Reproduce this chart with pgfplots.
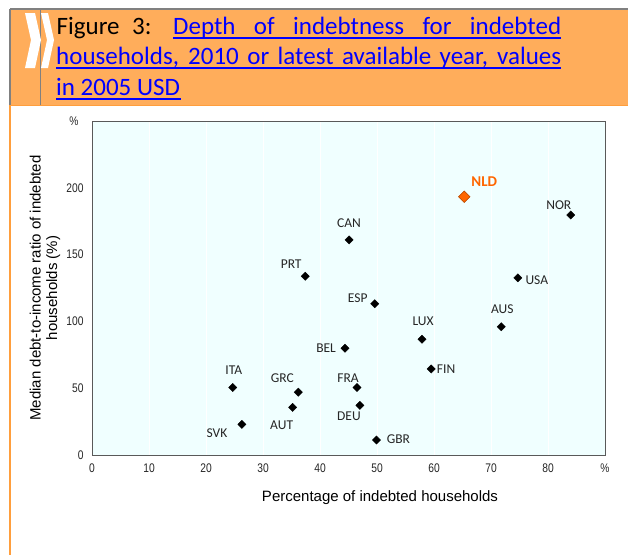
\documentclass[border=0pt]{standalone}
\usepackage{pgfplots}
\pgfplotsset{compat=1.18}
\usepackage{pgfplotstable}
\usepackage{fontspec}
\setmainfont{Liberation Sans}
\newfontfamily\calfont{Carlito}
\newfontfamily\ticknarrow[FakeStretch=0.82]{Liberation Sans}
\definecolor{titleorange}{HTML}{FFAD5B}
\definecolor{edgeorange}{HTML}{FF9E3D}
\definecolor{bordergray}{HTML}{808080}
\definecolor{linkblue}{HTML}{0000FF}
\definecolor{plotbg}{HTML}{F0FFFF}
\definecolor{nldorange}{HTML}{FF6600}
\definecolor{lblgray}{HTML}{262626}

\pgfplotstableread{
x y
84.0 179.6
45.1 161.0
74.7 132.6
37.4 133.8
49.6 113.2
71.8 96.0
57.9 86.6
44.4 79.9
59.5 64.4
46.5 50.5
47.0 37.1
49.9 11.2
24.7 50.5
36.2 47.0
35.2 35.6
26.3 22.9
}\others
\pgfplotstableread{
x y
65.3 193.3
}\nld

\begin{document}
\begin{tikzpicture}
\useasboundingbox (0,0) rectangle (628pt,-555pt);
% title box
\fill[titleorange] (10pt,-9pt) rectangle (628pt,-105pt);
\draw[edgeorange, line width=1.5pt] (10pt,-105.5pt) -- (628pt,-105.5pt);
\draw[edgeorange, line width=2pt] (10pt,-105pt) -- (10pt,-555pt);
\draw[bordergray, line width=2.5pt] (10pt,-9pt) -- (628pt,-9pt);
\draw[bordergray, line width=2.5pt] (10pt,-9pt) -- (10pt,-105pt);
\draw[bordergray, line width=1.5pt] (40.7pt,-9pt) -- (40.7pt,-105pt);
\fill[white] (25pt,-13pt) -- (35pt,-13pt) -- (41pt,-40pt) -- (35pt,-68pt) -- (25pt,-68pt) -- (31pt,-40pt) -- cycle;
\fill[white] (41pt,-13pt) -- (48pt,-13pt) -- (54pt,-40pt) -- (48pt,-68pt) -- (41pt,-68pt) -- (47pt,-40pt) -- cycle;
\node[anchor=base west, inner sep=0pt] at (56.5pt,-34pt) {\calfont\fontsize{25}{30}\selectfont Figure\hspace{0.5em}3:};
\node[anchor=base west, inner sep=0pt] at (173pt,-34pt) {\calfont\fontsize{25}{30}\selectfont\color{linkblue}\makebox[388pt][s]{Depth of indebtness for indebted}};
\node[anchor=base west, inner sep=0pt] at (56pt,-64.5pt) {\calfont\fontsize{25}{30}\selectfont\color{linkblue}\makebox[505pt][s]{households, 2010 or latest available year, values}};
\node[anchor=base west, inner sep=0pt] at (56pt,-95pt) {\calfont\fontsize{25}{30}\selectfont\color{linkblue}in 2005 USD};
\draw[linkblue, line width=1.8pt] (173pt,-37.8pt) -- (561pt,-37.8pt);
\draw[linkblue, line width=1.8pt] (56pt,-68.3pt) -- (561pt,-68.3pt);
\draw[linkblue, line width=1.8pt] (56pt,-99pt) -- (181pt,-99pt);
% axis titles
\node[font=\fontsize{15}{17}\selectfont, text=black] at (380pt,-498pt) {Percentage of indebted households};
\node[font=\fontsize{15}{16.7}\selectfont, text=black, rotate=90, align=center] at (45pt,-288pt) {Median debt-to-income ratio of indebted\\households (\%)};
\begin{axis}[
  scale only axis,
  width=513pt, height=334pt,
  at={(92pt,-455pt)}, anchor=south west,
  xmin=0, xmax=90, ymin=0, ymax=250,
  axis background/.style={fill=plotbg},
  axis line style={draw=black!65, line width=1pt},
  xtick={0,10,...,90},
  xticklabels={0,10,20,30,40,50,60,70,80,\raisebox{-5pt}{\%}},
  ytick={0,50,...,250},
  yticklabels={0,50,100,150,200,\raisebox{-3pt}{\makebox[0pt][r]{\%\hspace{5pt}}}},
  major tick length=0pt,
  xmajorgrids,
  grid style={white, line width=0.8pt},
  tick label style={font=\ticknarrow\fontsize{12.5}{13}\selectfont, text=black!85},
  xticklabel style={yshift=-5pt},
  yticklabel style={xshift=-5pt},
  clip=false,
]
\addplot[only marks, mark=square*, mark size=2.9pt, mark options={rotate=45, fill=black, draw=black}] table[x=x,y=y]{\others};
\addplot[only marks, mark=square*, mark size=4.1pt, mark options={rotate=45, fill=nldorange, draw=nldorange!70!black, line width=0.5pt}] table[x=x,y=y]{\nld};
\begin{scope}[every node/.style={font=\calfont\fontsize{13.5}{14}\selectfont, text=lblgray, inner sep=0pt}]
\node[xshift=-12pt, yshift=10pt] at (axis cs:84.0,179.6) {NOR};
\node[xshift=0pt, yshift=17pt] at (axis cs:45.1,161.0) {CAN};
\node[xshift=19pt, yshift=-2pt] at (axis cs:74.7,132.6) {USA};
\node[xshift=-14pt, yshift=12pt] at (axis cs:37.4,133.8) {PRT};
\node[xshift=-17pt, yshift=6pt] at (axis cs:49.6,113.2) {ESP};
\node[xshift=1pt, yshift=18pt] at (axis cs:71.8,96.0) {AUS};
\node[xshift=1pt, yshift=18pt] at (axis cs:57.9,86.6) {LUX};
\node[xshift=-19pt, yshift=0pt] at (axis cs:44.4,79.9) {BEL};
\node[xshift=15pt, yshift=0pt] at (axis cs:59.5,64.4) {FIN};
\node[xshift=-9pt, yshift=9pt] at (axis cs:46.5,50.5) {FRA};
\node[xshift=-11pt, yshift=-11pt] at (axis cs:47.0,37.1) {DEU};
\node[xshift=22pt, yshift=1pt] at (axis cs:49.9,11.2) {GBR};
\node[xshift=1pt, yshift=17pt] at (axis cs:24.7,50.5) {ITA};
\node[xshift=-16pt, yshift=14pt] at (axis cs:36.2,47.0) {GRC};
\node[xshift=-11pt, yshift=-18pt] at (axis cs:35.2,35.6) {AUT};
\node[xshift=-25pt, yshift=-9pt] at (axis cs:26.3,22.9) {SVK};
\end{scope}
\node[font=\calfont\bfseries\fontsize{15}{16}\selectfont, text=nldorange, inner sep=0pt, xshift=20pt, yshift=15pt] at (axis cs:65.3,193.3) {NLD};
\end{axis}
\end{tikzpicture}
\end{document}
